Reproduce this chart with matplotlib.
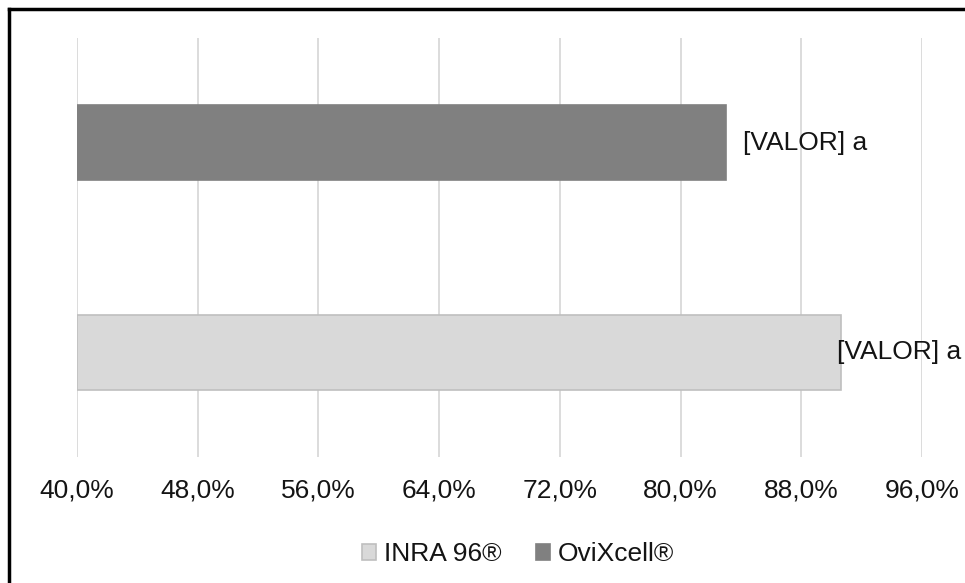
import matplotlib
matplotlib.use("Agg")
import matplotlib.pyplot as plt
from matplotlib.lines import Line2D
from matplotlib.patches import Patch
from matplotlib.ticker import FuncFormatter, MultipleLocator

# data
categories = ["INRA 96®", "OviXcell®"]
values = [90.6, 83.0]
bar_labels = ["[VALOR] a", "[VALOR] a"]
colors = ["#d9d9d9", "#808080"]
edges = ["#bfbfbf", "#808080"]

plt.rcParams["font.family"] = ["Liberation Sans", "DejaVu Sans"]
FS = 19
TXT = "#141414"

fig = plt.figure(figsize=(9.65, 5.83), dpi=100)
ax = fig.add_axes([77 / 965, 1 - 457 / 583, 845 / 965, 419 / 583])

y = list(range(len(categories)))
ax.barh(y, [v - 40 for v in values], left=40, height=0.357,
        color=colors, edgecolor=edges, linewidth=1.2, zorder=3)

ax.set_xlim(40, 96)
ax.set_ylim(-0.5, 1.5)
ax.xaxis.set_major_locator(MultipleLocator(8))
ax.xaxis.set_major_formatter(FuncFormatter(lambda v, _: f"{v:.1f}%".replace(".", ",")))
ax.set_yticks([])
ax.grid(axis="x", color="#d9d9d9", linewidth=1.3, zorder=0)
ax.tick_params(axis="x", length=0, pad=15.5, labelsize=FS, labelcolor=TXT)
for s in ax.spines.values():
    s.set_visible(False)

# value labels; the one that would run off the figure is pulled back inside
right_limit = 98.58
label_w = 8.28
for yi, v, lab in zip(y, values, bar_labels):
    x = v + 1.14
    if x + label_w > right_limit:
        ax.text(right_limit, yi, lab, ha="right", va="center", fontsize=FS, color=TXT, zorder=4)
    else:
        ax.text(x, yi, lab, ha="left", va="center", fontsize=FS, color=TXT, zorder=4)

handles = [Patch(facecolor=c, edgecolor=e, linewidth=1.2) for c, e in zip(colors, edges)]
fig.legend(handles, categories, loc="center", bbox_to_anchor=(518 / 965, 1 - 554 / 583),
           ncol=2, frameon=False, fontsize=FS, handlelength=0.55, handleheight=0.55,
           handletextpad=0.3, columnspacing=1.3, labelcolor=TXT)

# border on top and left only (the rest is cropped in the reference)
fig.add_artist(Line2D([9 / 965, 1], [1 - 8.5 / 583] * 2, color="black", linewidth=2.5,
                      transform=fig.transFigure))
fig.add_artist(Line2D([9 / 965] * 2, [0, 1 - 8.5 / 583], color="black", linewidth=2.5,
                      transform=fig.transFigure))

fig.savefig("out.png", dpi=100)
